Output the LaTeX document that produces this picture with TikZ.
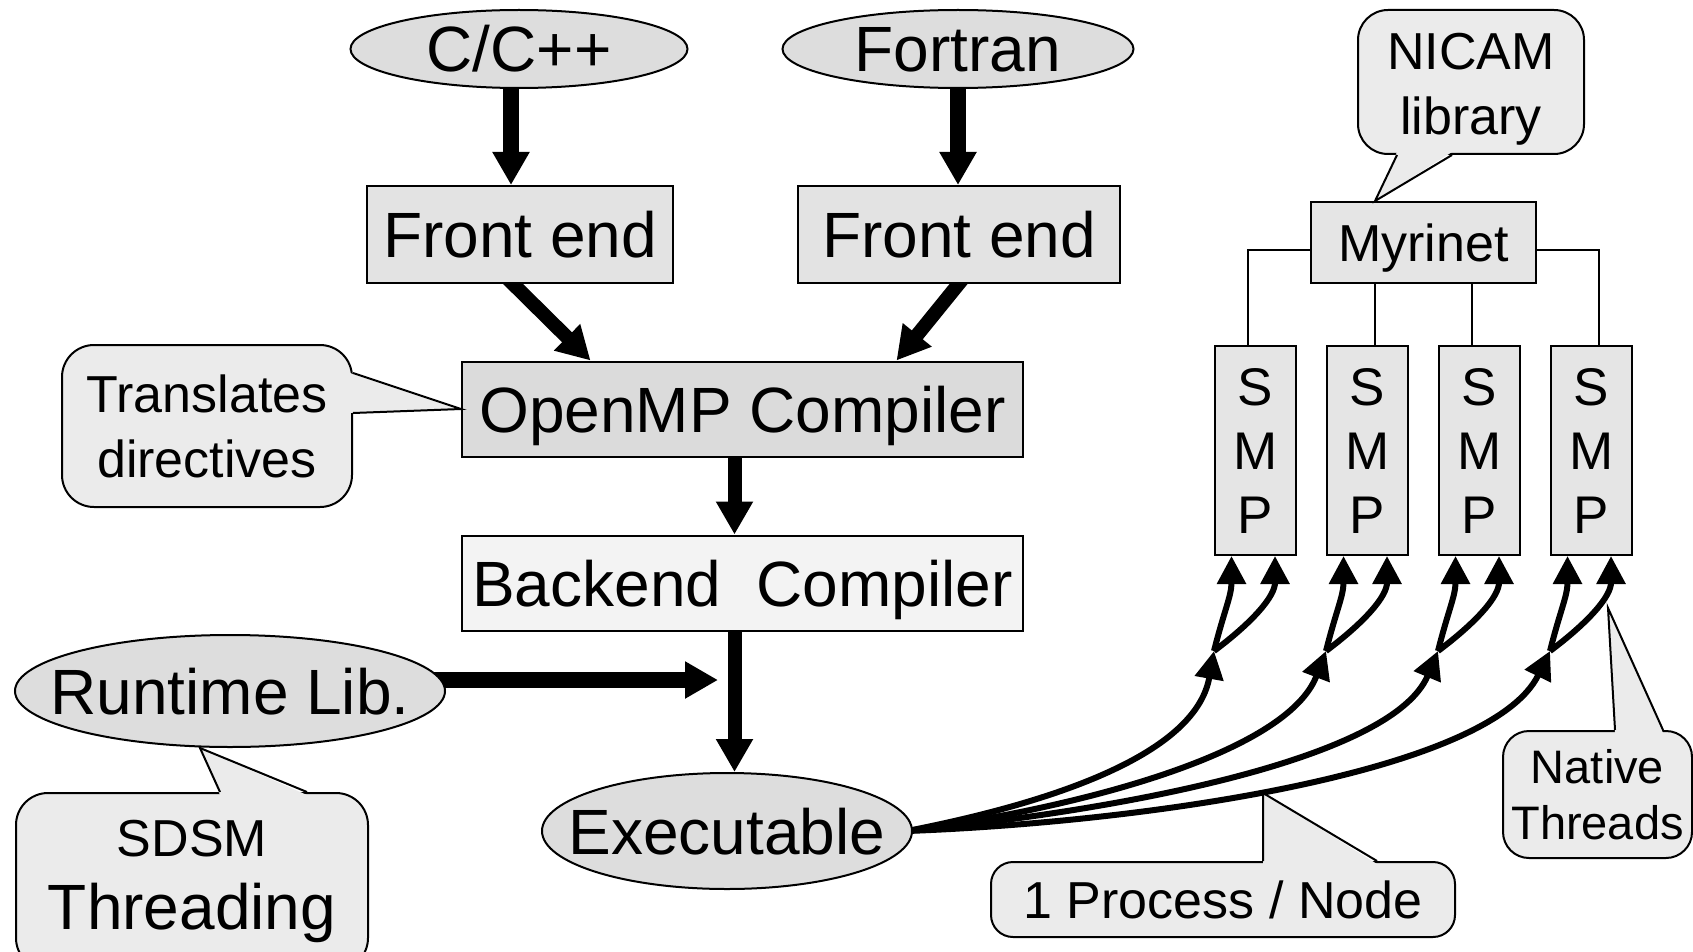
\documentclass[tikz,border=0pt]{standalone}
\usepackage{fontspec}
\setmainfont{Liberation Sans}
\usetikzlibrary{arrows.meta,shapes.geometric,backgrounds}

\definecolor{ovalfill}{HTML}{DDDDDD}
\definecolor{fefill}{HTML}{E3E3E3}
\definecolor{ompfill}{HTML}{DBDBDB}
\definecolor{bkfill}{HTML}{F3F3F3}
\definecolor{smpfill}{HTML}{E5E5E5}
\definecolor{callfill}{HTML}{EBEBEB}

\newcommand\fsBig{\fontsize{64}{77}\selectfont}
\newcommand\fsMid{\fontsize{52}{65}\selectfont}

\begin{document}
\begin{tikzpicture}[x=1pt,y=-1pt,
  line join=miter,
  edge/.style={line width=2pt},
  boxbase/.style={draw, line width=2pt, inner sep=0pt, rectangle},
  bigbox/.style={boxbase, font=\fsBig, text height=46pt, text depth=0pt},
  oval/.style={draw, line width=2pt, ellipse, inner sep=0pt, fill=ovalfill},
  ovaltext/.style={font=\fsBig, inner sep=0pt, text height=46pt, text depth=0pt},
  smpbox/.style={boxbase, fill=smpfill, minimum width=81pt, minimum height=209pt,
    font=\fontsize{53}{64}\selectfont, align=center},
  cbox/.style={draw, line width=2pt, fill=callfill, inner sep=0pt, align=center},
  calltext/.style={font=\fsMid, align=center, inner sep=0pt},
  flow/.style={line width=14pt, -{Triangle[length=33pt,width=35pt]}},
  fan/.style={line width=6pt, -{Triangle[length=28pt,width=28pt]}},
]
\useasboundingbox (0,0) rectangle (1693,952);

% compiler pipeline
\node[oval, minimum width=337pt, minimum height=78pt,
      label={[ovaltext]center:C/C++}] (cc) at (519,49) {};
\node[oval, minimum width=351pt, minimum height=78pt,
      label={[ovaltext]center:Fortran}] (fo) at (958,49) {};
\node[bigbox, fill=fefill, minimum width=306pt, minimum height=97pt] (fe1) at (520,234.5) {Front end};
\node[bigbox, fill=fefill, minimum width=322pt, minimum height=97pt] (fe2) at (959,234.5) {Front end};
\node[bigbox, fill=ompfill, minimum width=561pt, minimum height=95pt] (omp) at (742.5,409) {OpenMP Compiler};
\node[bigbox, fill=bkfill, minimum width=561pt, minimum height=95pt] (bk) at (742.5,583) {Backend\ \ Compiler};
\node[oval, minimum width=370pt, minimum height=116pt,
      label={[ovaltext]center:Executable}] (exe) at (727,831) {};
\node[oval, minimum width=430pt, minimum height=112pt,
      label={[ovaltext]center:Runtime Lib.}] (rt) at (230,691) {};

% cluster
\node[boxbase, fill=smpfill, minimum width=225pt, minimum height=81pt,
      font=\fsMid, text height=37pt, text depth=0pt] (my) at (1423.5,242.5) {Myrinet};
\foreach \i/\x in {1/1255.5,2/1367.5,3/1479.5,4/1591.5}
  \node[smpbox] (s\i) at (\x,450.5) {S\\M\\P};

% callouts
\node[cbox, rounded corners=32pt, minimum width=290pt, minimum height=162pt,
      font=\fontsize{52}{65}\selectfont] (tr) at (207,426) {Translates\\directives};
\node[cbox, rounded corners=30pt, minimum width=226pt, minimum height=144pt,
      label={[calltext, yshift=-7pt]center:{NICAM\\library}}] (ni) at (1471,82) {};
\node[cbox, rounded corners=32pt, minimum width=352pt, minimum height=177pt,
      font=\fontsize{52}{73}\selectfont] (sd) at (192,881.5)
      {SDSM\\{\fontsize{64}{73}\selectfont Threading}};
\node[cbox, rounded corners=26pt, minimum width=189pt, minimum height=127pt,
      font=\fontsize{47}{56}\selectfont] (nt) at (1597.5,794.5) {Native\\Threads};
\node[cbox, rounded corners=22pt, minimum width=464pt, minimum height=75pt,
      font=\fontsize{52}{62}\selectfont] (pn) at (1223,899.5) {1 Process / Node};

% branch points below each SMP node
\foreach \i in {1,...,4}
  \coordinate (b\i) at ([xshift=-41.5pt,yshift=-95pt]s\i.south);
\coordinate (join) at (718,680);
\coordinate (nttip) at ([xshift=16.5pt,yshift=-52pt]s4.south);
\coordinate (pntip) at (1263,793);

\begin{scope}[on background layer]
  % main flow
  \draw[flow, line width=16pt] ([xshift=-8pt]cc.center) -- ([xshift=-8pt]cc.center |- fe1.north);
  \draw[flow, line width=16pt] (fo.center) -- (fo.center |- fe2.north);
  \draw[flow] ([xshift=-15pt,yshift=8pt]fe1.south) -- ([xshift=-152pt]omp.north);
  \draw[flow] ([xshift=6pt,yshift=8pt]fe2.south) -- ([xshift=154pt]omp.north);
  \draw[flow] ([xshift=-8pt]omp.center) -- ([xshift=-8pt]bk.north);
  \draw[flow] ([xshift=-8pt]bk.center) -- ([xshift=-8pt]bk.south |- exe.north);
  \draw[flow, line width=16pt] ([yshift=11pt]rt.center) -- (join);

  % network wiring
  \coordinate (t1) at ([xshift=-7.5pt]s1.north);
  \coordinate (t2) at ([xshift=7.5pt]s2.north);
  \coordinate (t3) at ([xshift=-7.5pt]s3.north);
  \coordinate (t4) at ([xshift=7.5pt]s4.north);
  \draw[edge] ([yshift=-7.5pt]my.west) -| (t1);
  \draw[edge] ([yshift=-7.5pt]my.east) -| (t4);
  \draw[edge] (t2 |- my.south) -- (t2);
  \draw[edge] (t3 |- my.south) -- (t3);

  % one process per node
  \draw[fan] ([xshift=-6pt]exe.east) .. controls (1040,805) and (1195,758) .. (b1);
  \draw[fan] ([xshift=-6pt]exe.east) .. controls (1080,808) and (1287,753) .. (b2);
  \draw[fan] ([xshift=-6pt]exe.east) .. controls (1110,812) and (1392,761) .. (b3);
  \draw[fan] ([xshift=-6pt]exe.east) .. controls (1150,822) and (1491,772) .. (b4);

  % threads inside each node
  \foreach \i in {1,...,4} {
    \draw[fan] (b\i) .. controls +(10,-40) and +(0,40) .. ([xshift=-24pt]s\i.south);
    \draw[fan] (b\i) .. controls +(40,-30) and +(0,40) .. ([xshift=19.5pt]s\i.south);
  }
\end{scope}

% callout pointers
\fill[callfill] ([xshift=-3pt,yshift=53pt]tr.east) -- (omp.west) -- ([xshift=-3pt,yshift=13pt]tr.east) -- cycle;
\draw[edge] ([yshift=53pt]tr.east) -- (omp.west) -- ([yshift=13pt]tr.east);

\fill[callfill] ([xshift=-74pt,yshift=3pt]ni.south) -- ([xshift=-48.5pt]my.north) -- ([xshift=-19pt,yshift=3pt]ni.south) -- cycle;
\draw[edge] ([xshift=-74pt]ni.south) -- ([xshift=-48.5pt]my.north) -- ([xshift=-19pt]ni.south);

\fill[callfill] ([xshift=28pt,yshift=-3pt]sd.north) -- ([xshift=-30pt]rt.south) -- ([xshift=115pt,yshift=-3pt]sd.north) -- cycle;
\draw[edge] ([xshift=28pt]sd.north) -- ([xshift=-30pt]rt.south) -- ([xshift=115pt]sd.north);

\fill[callfill] ([xshift=17.5pt,yshift=-3pt]nt.north) -- (nttip) -- ([xshift=65.5pt,yshift=-3pt]nt.north) -- cycle;
\draw[edge] ([xshift=17.5pt]nt.north) -- (nttip) -- ([xshift=65.5pt]nt.north);

\fill[callfill] ([xshift=40pt,yshift=-3pt]pn.north) -- (pntip) -- ([xshift=154pt,yshift=-3pt]pn.north) -- cycle;
\draw[edge] ([xshift=40pt]pn.north) -- (pntip) -- ([xshift=154pt]pn.north);
\end{tikzpicture}
\end{document}
